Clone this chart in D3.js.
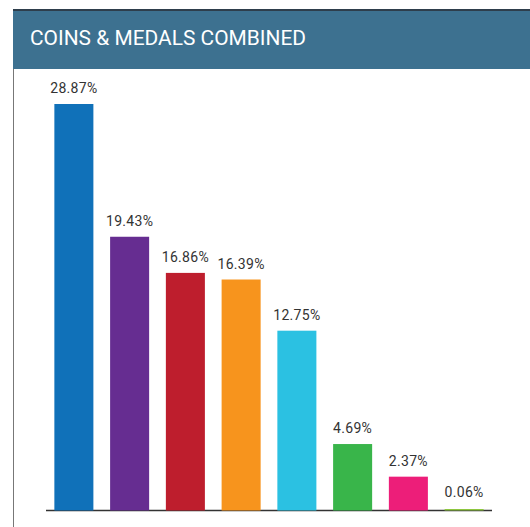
<!DOCTYPE html>
<html>
<head>
<meta charset="utf-8">
<script src="https://cdn.jsdelivr.net/npm/d3@7"></script>
<style>
  body { margin: 0; background: #fff; }
  svg { display: block; font-family: Roboto, "Liberation Sans", sans-serif; }
</style>
</head>
<body>
<div id="chart"></div>
<script>
var categories = ["A", "B", "C", "D", "E", "F", "G", "H"];
var values = [28.87, 19.43, 16.86, 16.39, 12.75, 4.69, 2.37, 0.06];
var colors = ["#1071b9", "#662d91", "#be1e2d", "#f7941d", "#2bc1e2", "#39b54a", "#ed1e79", "#8dc63f"];
var title = "COINS & MEDALS COMBINED";

function draw_chart(element) {
    var svg = d3.select("#" + element).append("svg").attr("width", 530).attr("height", 527);

    // panel frame
    svg.append("line")
        .attr("x1", 13.5).attr("x2", 13.5).attr("y1", 10).attr("y2", 527)
        .attr("stroke", "#777").attr("stroke-width", 1);
    svg.append("rect")
        .attr("x", 13).attr("y", 10).attr("width", 517).attr("height", 59)
        .attr("fill", "#3d7190");
    svg.append("rect")
        .attr("x", 13).attr("y", 9).attr("width", 517).attr("height", 2)
        .attr("fill", "#2e3e4c");
    svg.append("text")
        .attr("x", 30).attr("y", 45)
        .attr("fill", "#fff")
        .attr("font-size", 21)
        .attr("textLength", 276)
        .attr("lengthAdjust", "spacingAndGlyphs")
        .text(title);

    var x = d3.scaleBand().domain(categories).range([46, 492]).paddingInner(0.3).paddingOuter(0.15);
    var y = d3.scaleLinear().domain([0, 28.87]).range([510, 104]);

    // baseline first, bars sit on top of it
    svg.append("line")
        .attr("x1", 46).attr("x2", 492).attr("y1", 510.5).attr("y2", 510.5)
        .attr("stroke", "#333").attr("stroke-width", 1.5);

    var bars = svg.selectAll(".gr")
        .data(values)
        .enter().append("g")
        .attr("class", "gr");

    bars.append("rect")
        .attr("x", function (d, i) { return x(categories[i]); })
        .attr("y", function (d) { return Math.min(y(d), 509); })
        .attr("width", x.bandwidth())
        .attr("height", function (d) { return Math.max(y(0) - y(d), 1) + 0.5; })
        .attr("fill", function (d, i) { return colors[i]; });

    bars.append("text")
        .attr("x", function (d, i) { return x(categories[i]) + x.bandwidth() / 2; })
        .attr("y", function (d) { return Math.min(y(d), 508) - 11; })
        .attr("text-anchor", "middle")
        .attr("fill", "#333")
        .attr("font-size", 14)
        .attr("letter-spacing", 0.3)
        .text(function (d) { return d.toFixed(2) + "%"; });
}

draw_chart("chart");
</script>
</body>
</html>
